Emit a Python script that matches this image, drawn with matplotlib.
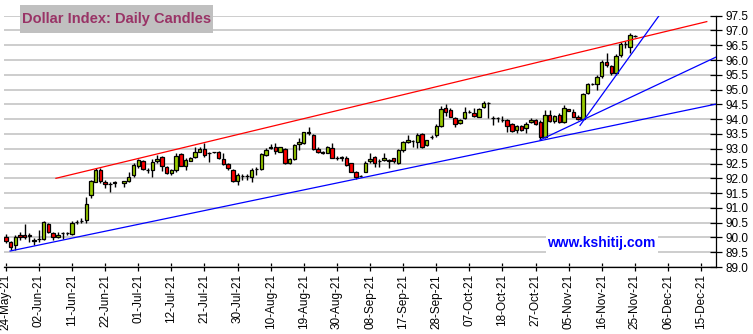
import numpy as np
import pandas as pd
import matplotlib
matplotlib.use("Agg")
import matplotlib.pyplot as plt
from matplotlib.patches import Rectangle

plt.rcParams['font.family'] = ['Liberation Sans', 'DejaVu Sans']

# daily OHLC (index = trading day from 24-May-21)
opens = [90.01, 89.84, 89.74, 90.08, 90.08, 90.07, 89.90, 89.94, 89.94, 90.45,
         90.15, 90.00, 90.15, 90.14, 90.11, 90.52, 90.54, 90.59, 91.44, 91.89,
         92.28, 91.88, 91.82, 91.86, np.nan, 91.83, 91.91, 92.10, 92.40, 92.59,
         92.29, 92.28, 92.57, 92.71, 92.37, 92.17, 92.28, 92.82, 92.43, 92.60,
         92.71, 92.90, 92.98, 92.86, 92.88, 92.88, 92.66, 92.49, 92.28, 91.91,
         92.09, 92.09, 92.06, 92.31, 92.31, 92.79, 93.04, 93.07, 92.90, 93.00,
         92.53, 92.65, 93.16, 93.19, 93.56, 93.47, 93.00, 92.90, 92.87, 93.02,
         92.68, 92.70, 92.68, 92.51, 92.23, 92.08, 92.23, 92.57, 92.71, 92.59,
         92.61, 92.63, 92.67, 92.51, 92.96, 93.23, 93.25, 93.24, 93.50, 93.13,
         93.39, 93.47, 93.77, 94.37, 94.31, 94.03, 93.86, 94.03, 94.25, 94.22,
         94.08, 94.40, 94.56, 94.03, 94.03, 93.98, 93.96, 93.83, 93.64, 93.78,
         93.70, 93.90, 93.98, 93.90, 93.39, 94.15, 93.94, 94.15, 93.90, 94.34,
         94.24, 94.09, 94.00, 94.88, 95.18, 95.18, 95.46, 95.94, 95.80, 95.57,
         96.17, 96.54, 96.45, 96.82]
highs = [90.11, 89.89, 90.09, 90.17, 90.46, 90.15, 89.97, 90.26, 90.56, 90.48,
         90.20, 90.17, 90.18, 90.20, 90.54, 90.59, 90.65, 91.38, 91.95, 92.34,
         92.36, 91.95, 91.89, 91.91, np.nan, 91.92, 92.21, 92.51, 92.66, 92.62,
         92.34, 92.64, 92.79, 92.76, 92.40, 92.31, 92.85, 92.85, 92.68, 92.71,
         93.07, 93.07, 93.21, 92.90, 92.90, 92.94, 92.85, 92.51, 92.32, 92.17,
         92.15, 92.15, 92.34, 92.38, 92.87, 93.02, 93.15, 93.21, 93.07, 93.02,
         92.68, 93.15, 93.35, 93.58, 93.72, 93.50, 93.07, 92.94, 93.10, 93.19,
         92.76, 92.76, 92.74, 92.53, 92.25, 92.12, 92.57, 92.85, 92.76, 92.65,
         92.87, 92.66, 92.70, 92.98, 93.26, 93.47, 93.30, 93.52, 93.54, 93.30,
         93.47, 93.83, 94.44, 94.50, 94.37, 94.08, 94.00, 94.42, 94.31, 94.37,
         94.37, 94.60, 94.58, 94.11, 94.09, 94.11, 94.00, 93.87, 93.80, 93.81,
         93.92, 94.03, 94.01, 93.98, 94.31, 94.31, 94.15, 94.20, 94.48, 94.36,
         94.34, 94.15, 94.88, 95.21, 95.21, 95.50, 96.00, 96.25, 95.83, 96.20,
         96.60, 96.66, 96.93, 96.85]
lows = [89.81, 89.56, 89.58, 89.92, 89.95, 89.84, 89.75, 89.86, 89.92, 90.15,
        89.92, 89.97, 89.95, 90.07, 90.09, 90.45, 90.48, 90.48, 91.32, 91.87,
        91.83, 91.66, 91.55, 91.72, np.nan, 91.72, 91.87, 92.06, 92.36, 92.28,
        92.17, 92.04, 92.53, 92.26, 92.15, 92.12, 92.23, 92.40, 92.28, 92.57,
        92.68, 92.88, 92.73, 92.54, 92.85, 92.64, 92.45, 92.28, 91.88, 91.78,
        91.95, 91.95, 91.86, 92.12, 92.29, 92.74, 92.98, 92.83, 92.88, 92.49,
        92.49, 92.62, 92.96, 93.16, 93.47, 92.96, 92.87, 92.83, 92.85, 92.68,
        92.62, 92.57, 92.42, 92.20, 91.97, 92.04, 92.20, 92.51, 92.38, 92.38,
        92.59, 92.34, 92.51, 92.49, 92.90, 93.21, 93.07, 93.02, 93.02, 93.10,
        93.32, 93.39, 93.75, 94.11, 94.06, 93.72, 93.84, 94.00, 94.20, 94.08,
        94.06, 94.37, 94.03, 93.81, 93.92, 93.89, 93.56, 93.58, 93.53, 93.61,
        93.53, 93.87, 93.79, 93.30, 93.36, 93.91, 93.87, 93.87, 93.87, 94.26,
        94.07, 93.98, 93.98, 94.84, 95.16, 94.99, 95.40, 95.75, 95.50, 95.50,
        96.10, 96.40, 96.25, 96.78]
closes = [89.87, 89.67, 90.03, 90.01, 90.03, 90.06, 89.89, 89.96, 90.52, 90.18,
          90.00, 90.09, 90.16, 90.15, 90.48, 90.53, 90.55, 91.12, 91.91, 92.28,
          91.91, 91.80, 91.81, 91.85, np.nan, 91.91, 92.03, 92.45, 92.62, 92.31,
          92.28, 92.54, 92.64, 92.43, 92.17, 92.28, 92.76, 92.43, 92.62, 92.68,
          92.88, 92.98, 92.78, 92.85, 92.88, 92.68, 92.49, 92.34, 91.90, 92.12,
          92.08, 92.08, 92.29, 92.31, 92.83, 92.96, 93.04, 92.94, 93.05, 92.53,
          92.66, 93.13, 93.22, 93.56, 93.52, 92.98, 92.90, 92.86, 93.05, 92.70,
          92.68, 92.70, 92.45, 92.23, 92.06, 92.08, 92.51, 92.65, 92.51, 92.59,
          92.67, 92.60, 92.57, 92.96, 93.24, 93.29, 93.25, 93.47, 93.07, 93.28,
          93.39, 93.77, 94.33, 94.25, 94.08, 93.83, 93.97, 94.25, 94.25, 94.12,
          94.33, 94.56, 94.56, 94.03, 94.03, 93.98, 93.78, 93.61, 93.78, 93.64,
          93.83, 93.98, 93.83, 93.39, 94.15, 93.94, 94.11, 93.89, 94.37, 94.28,
          94.09, 94.00, 94.85, 95.19, 95.18, 95.42, 95.94, 95.83, 95.55, 96.14,
          96.54, 96.55, 96.85, 96.82]

# trendlines: (trading-day index, price) end points
red_x, red_y = [10.6, 148.2], [92.0, 97.3]
blue_low_x, blue_low_y = [0.9, 150.15], [89.54, 94.51]
blue_mid_x, blue_mid_y = [113, 150.15], [93.30, 96.10]
blue_steep_x, blue_steep_y = [121.4, 138.1], [93.79, 97.5]

start_date = "2021-05-24"
n_ticks = 22
tick_step = 7

W, H = 753, 334
fig = plt.figure(figsize=(W / 100, H / 100), dpi=100)
ax_l, ax_r, ax_t, ax_b = 4, 716, 15.7, 267
ax = fig.add_axes([ax_l / W, 1 - ax_b / H, (ax_r - ax_l) / W, (ax_b - ax_t) / H])

o = np.array(opens); h = np.array(highs); l = np.array(lows); c = np.array(closes)
x = np.arange(len(o))
up = c >= o
cols = np.where(up, '#99cc00', '#ff0000')

ax.vlines(x, l, h, color='black', lw=1.0, zorder=3)
body_h = np.maximum(np.abs(c - o), 0.004)
ax.bar(x, body_h, bottom=np.minimum(o, c), width=0.72, color=cols,
       edgecolor='black', linewidth=0.9, zorder=4)

ax.plot(red_x, red_y, color='#ff0000', lw=0.9, zorder=5)
ax.plot(blue_low_x, blue_low_y, color='#0000ff', lw=0.9, zorder=5)
ax.plot(blue_mid_x, blue_mid_y, color='#0000ff', lw=0.9, zorder=5)
ax.plot(blue_steep_x, blue_steep_y, color='#0000ff', lw=0.9, zorder=5)

ax.set_ylim(89.0, 97.5)
ax.set_xlim((ax_l - 5.8) / 4.73, (ax_r - 5.8) / 4.73)
ax.set_yticks(np.arange(89.0, 97.51, 0.5))
ax.yaxis.set_major_formatter(matplotlib.ticker.FormatStrFormatter('%.1f'))
ax.yaxis.tick_right()
ax.grid(axis='y', color='#c0c0c0', lw=1.1, zorder=0)
ax.set_axisbelow(True)

dates = pd.bdate_range(start_date, periods=n_ticks * tick_step)
tick_pos = np.arange(0, n_ticks * tick_step, tick_step)
ax.set_xticks(tick_pos)
ax.set_xticklabels([dates[i].strftime('%d-%b-%y') for i in tick_pos], rotation=90)

for s in ['top', 'left']:
    ax.spines[s].set_visible(False)
for s in ['bottom', 'right']:
    ax.spines[s].set_linewidth(0.9)
ax.tick_params(axis='y', direction='inout', length=8, width=0.9, pad=2.5, labelsize=8.5)
ax.tick_params(axis='x', direction='inout', length=6, width=0.9, pad=2, labelsize=8.5)

# title box
fig.patches.append(Rectangle((20 / W, 1 - 33 / H), 193 / W, 28 / H, transform=fig.transFigure,
                             facecolor='#c0c0c0', edgecolor='none', zorder=2))
fig.text(116.5 / W, 1 - 19.5 / H, 'Dollar Index: Daily Candles', ha='center', va='center',
         fontsize=10.5, fontweight='bold', color='#993366', zorder=3)

# watermark
fig.patches.append(Rectangle((546 / W, 1 - 256 / H), 112 / W, 24 / H, transform=fig.transFigure,
                             facecolor='white', edgecolor='none', zorder=2))
fig.text(601 / W, 1 - 243 / H, 'www.kshitij.com', ha='center', va='center',
         fontsize=10, fontweight='bold', color='#0000ff', zorder=3)

fig.savefig('out.png', dpi=100)
